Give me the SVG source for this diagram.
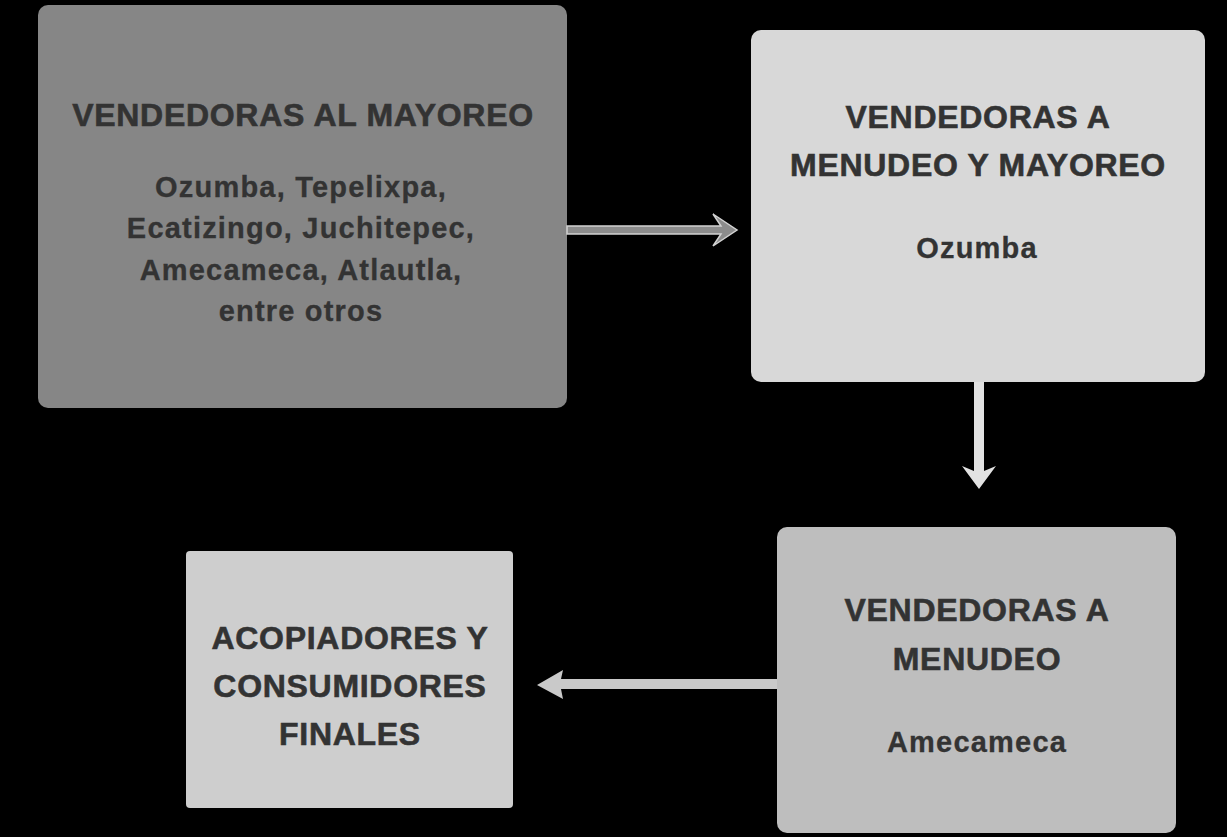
<svg xmlns="http://www.w3.org/2000/svg" width="1227" height="837" viewBox="0 0 1227 837">
<style>
.h{font-family:"Liberation Sans",Arial,sans-serif;font-weight:bold;font-size:32px;fill:#333333;stroke:#333333;stroke-width:0.6px;text-anchor:middle;letter-spacing:0.7px}
.b{font-family:"Liberation Sans",Arial,sans-serif;font-weight:bold;font-size:29px;fill:#333333;stroke:#333333;stroke-width:0.3px;text-anchor:middle;letter-spacing:1.2px}
</style>
<rect width="1227" height="837" fill="#000000"/>
<g id="node-mayoreo">
<rect x="38" y="5" width="529" height="403" rx="10" fill="#868686"/>
<text class="h" x="303" y="126">VENDEDORAS AL MAYOREO</text>
<text class="b" x="301" y="197">Ozumba, Tepelixpa,</text>
<text class="b" x="301" y="238">Ecatizingo, Juchitepec,</text>
<text class="b" x="301" y="280">Amecameca, Atlautla,</text>
<text class="b" x="301" y="321">entre otros</text>
</g>
<g id="node-menudeo-mayoreo">
<rect x="751" y="30" width="454" height="352" rx="10" fill="#d8d8d8"/>
<text class="h" x="978" y="128">VENDEDORAS A</text>
<text class="h" x="978" y="176">MENUDEO Y MAYOREO</text>
<text class="b" x="977" y="258">Ozumba</text>
</g>
<g id="node-menudeo">
<rect x="777" y="527" width="399" height="306" rx="10" fill="#bebebe"/>
<text class="h" x="977" y="621">VENDEDORAS A</text>
<text class="h" x="977" y="670">MENUDEO</text>
<text class="b" x="977" y="752">Amecameca</text>
</g>
<g id="node-acopiadores">
<rect x="186" y="551" width="327" height="257" rx="4" fill="#cecece"/>
<text class="h" x="350" y="649">ACOPIADORES Y</text>
<text class="h" x="350" y="697">CONSUMIDORES</text>
<text class="h" x="350" y="745">FINALES</text>
</g>
<g id="connectors">
<path d="M567,226 H721 L713,214 L737,230 L713,246 L721,234 H567 Z" fill="#8c8c8c" stroke="#d2d2d2" stroke-width="1.5"/>
<path d="M974,382 V471 L962,466 L979,489 L996,466 L984,471 V382 Z" fill="#e2e2e2"/>
<path d="M777,679 H561 L563,670 L537,685 L563,699 L561,689 H777 Z" fill="#c9c9c9"/>
</g>
</svg>
